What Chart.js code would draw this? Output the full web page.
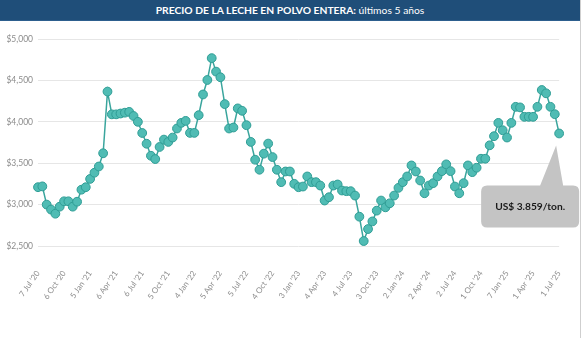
<!DOCTYPE html>
<html>
<head>
<meta charset="utf-8">
<script src="https://cdn.jsdelivr.net/npm/chart.js@4/dist/chart.umd.min.js"></script>
<style>
    html, body { margin: 0; padding: 0; background: #fff; }
    #wrap { position: relative; width: 582px; height: 338px; overflow: hidden; }
    #banner {
        position: absolute; top: 0; left: 0; width: 580px; height: 20px;
        background: #1f4e79; border-bottom: 1px solid #2d5f8e;
        color: #fff; font-family: 'Lato', sans-serif; font-size: 10.3px;
        line-height: 20px; text-align: center; z-index: 2;
    }
    #banner b { font-weight: 700; }
    #edge { position: absolute; top: 0; left: 580px; width: 1px; height: 338px; background: #cfcfcf; }
    canvas { position: absolute; top: 0; left: 0; }
</style>
</head>
<body>
<div id="wrap">
    <div id="banner"><b>PRECIO DE LA LECHE EN POLVO ENTERA:</b> últimos 5 años</div>
    <canvas id="wmpChart" width="582" height="338"></canvas>
    <div id="edge"></div>
</div>
<script>
// Precio promedio por subasta (USD/ton), una subasta cada dos semanas
const prices = [
    3210, 3220, 3000, 2940, 2890, 2975, 3040, 3040, 2975, 3035,
    3180, 3210, 3310, 3385, 3460, 3620, 4365, 4090, 4090, 4100,
    4110, 4120, 4070, 4000, 3865, 3735, 3590, 3550, 3696, 3785,
    3757, 3810, 3919, 3987, 4011, 3866, 3866, 4080, 4330, 4505,
    4769, 4606, 4538, 4214, 3919, 3931, 4162, 4133, 3959, 3757,
    3542, 3421, 3615, 3737, 3574, 3421, 3271, 3400, 3400, 3251,
    3210, 3218, 3340, 3271, 3271, 3230, 3049, 3089, 3230, 3243,
    3170, 3162, 3162, 3109, 2854, 2560, 2705, 2797, 2927, 3049,
    2967, 3016, 3109, 3202, 3271, 3340, 3473, 3400, 3291, 3137,
    3230, 3259, 3340, 3404, 3486, 3404, 3218, 3137, 3259, 3473,
    3392, 3445, 3554, 3554, 3716, 3826, 3987, 3898, 3810, 3987,
    4181, 4174, 4060, 4060, 4060, 4181, 4384, 4344, 4181, 4092,
    3859
];

// Fechas rotuladas en el eje (una cada 6 subastas)
const tickLabels = [
    "7 Jul '20", "6 Oct '20", "5 Jan '21", "6 Apr '21", "6 Jul '21",
    "5 Oct '21", "4 Jan '22", "5 Apr '22", "5 Jul '22", "4 Oct '22",
    "3 Jan '23", "4 Apr '23", "4 Jul '23", "3 Oct '23", "2 Jan '24",
    "2 Apr '24", "2 Jul '24", "1 Oct '24", "7 Jan '25", "1 Apr '25",
    "1 Jul '25"
];
const tickEvery = 6;

const yTicks = [2500, 3000, 3500, 4000, 4500, 5000];

const categories = prices.map((_, i) => (i % tickEvery === 0 ? tickLabels[i / tickEvery] : ''));

function thousands(n, sep) {
    return String(Math.round(n)).replace(/\B(?=(\d{3})+(?!\d))/g, sep);
}

// Globo con el ultimo precio, apuntando al ultimo punto
const calloutPlugin = {
    id: 'lastPriceCallout',
    afterDatasetsDraw(chart) {
        const meta = chart.getDatasetMeta(0);
        const last = meta.data[meta.data.length - 1];
        const value = prices[prices.length - 1];
        const ctx = chart.ctx;
        const px = last.x, py = last.y;
        const left = px - 78, right = px + 20, top = py + 52, bottom = py + 94, r = 6;

        ctx.save();
        ctx.fillStyle = '#c4c4c4';
        ctx.beginPath();
        ctx.moveTo(left + r, top);
        ctx.lineTo(px - 19, top);
        ctx.lineTo(px - 3, py + 12);
        ctx.lineTo(px + 4, top);
        ctx.lineTo(right - r, top);
        ctx.quadraticCurveTo(right, top, right, top + r);
        ctx.lineTo(right, bottom - r);
        ctx.quadraticCurveTo(right, bottom, right - r, bottom);
        ctx.lineTo(left + r, bottom);
        ctx.quadraticCurveTo(left, bottom, left, bottom - r);
        ctx.lineTo(left, top + r);
        ctx.quadraticCurveTo(left, top, left + r, top);
        ctx.closePath();
        ctx.fill();

        ctx.fillStyle = '#1a1a1a';
        ctx.font = "bold 10.2px 'Lato', sans-serif";
        ctx.textAlign = 'center';
        ctx.textBaseline = 'middle';
        ctx.fillText('US$ ' + thousands(value, '.') + '/ton.', (left + right) / 2, (top + bottom) / 2 + 0.5);
        ctx.restore();
    }
};

const ctx = document.getElementById('wmpChart').getContext('2d');
new Chart(ctx, {
    type: 'line',
    data: {
        labels: categories,
        datasets: [{
            label: 'WMP',
            data: prices,
            borderColor: '#3aa59d',
            borderWidth: 1.5,
            pointRadius: 4.4,
            pointBackgroundColor: '#50bcb4',
            pointBorderColor: '#2f9d95',
            pointBorderWidth: 1,
            tension: 0
        }]
    },
    options: {
        responsive: false,
        animation: false,
        layout: { padding: { top: 39, right: 21, left: 0, bottom: 0 } },
        plugins: {
            legend: { display: false },
            tooltip: { enabled: false }
        },
        scales: {
            x: {
                grid: { display: false },
                border: { display: false },
                ticks: {
                    autoSkip: false,
                    minRotation: 55,
                    maxRotation: 55,
                    padding: 15,
                    color: '#8c8c8c',
                    font: { family: 'Lato', size: 8 }
                },
                afterFit(scale) { scale.height = 92; }
            },
            y: {
                min: 2500,
                max: 5000,
                afterBuildTicks(scale) { scale.ticks = yTicks.map(v => ({ value: v })); },
                grid: { color: '#e6e6e6', drawTicks: false },
                border: { display: false },
                ticks: {
                    padding: 5,
                    color: '#8c8c8c',
                    font: { family: 'Lato', size: 8.5 },
                    callback: v => '$' + thousands(v, ',')
                },
                afterFit(scale) { scale.width = 38; }
            }
        }
    },
    plugins: [calloutPlugin]
});
</script>
</body>
</html>
